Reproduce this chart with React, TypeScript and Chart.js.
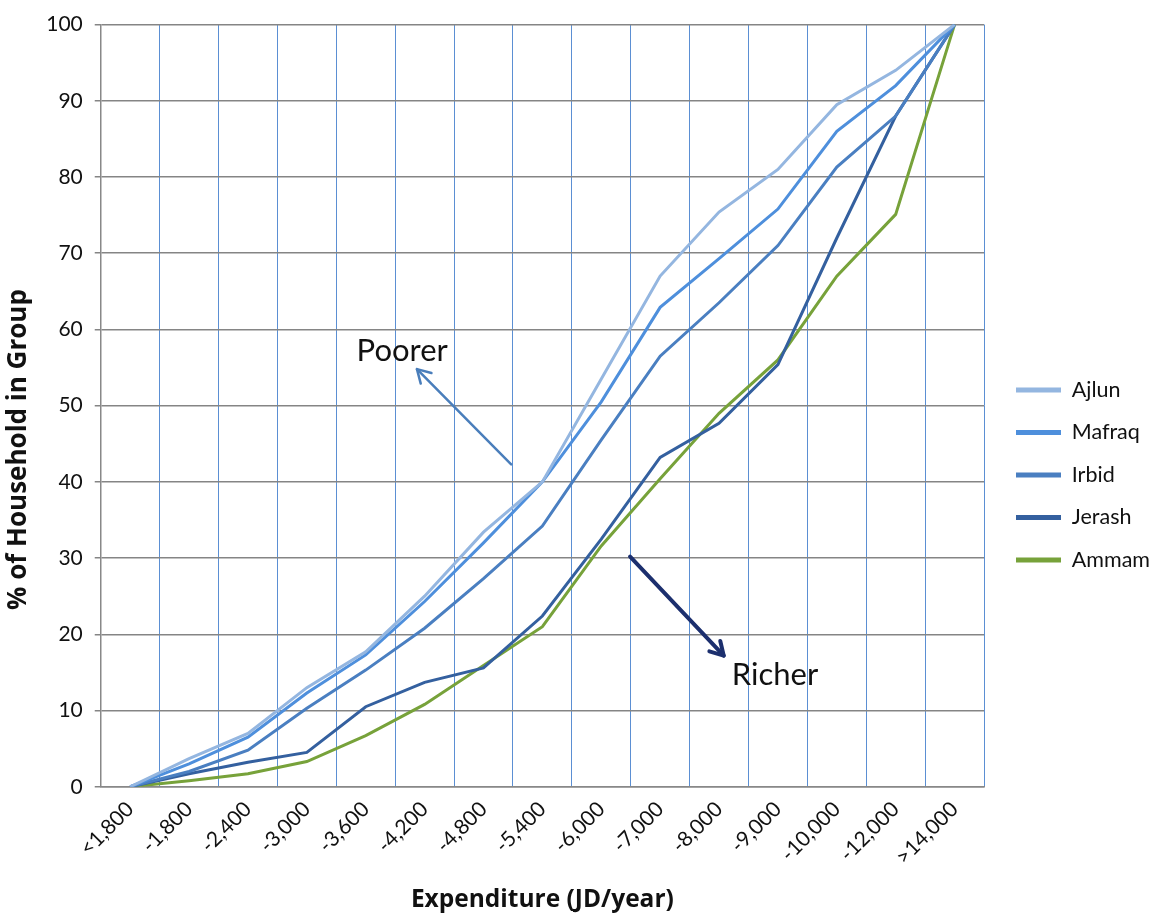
import React, { useEffect, useRef } from 'react';
import { Chart, registerables } from 'chart.js';

Chart.register(...registerables);

const categories = ['<1,800', '-1,800', '-2,400', '-3,000', '-3,600', '-4,200', '-4,800', '-5,400', '-6,000', '-7,000', '-8,000', '-9,000', '-10,000', '-12,000', '>14,000'];

const ajlun = [0, 3.7, 7, 13, 17.7, 25, 33.4, 40, 53.5, 67, 75.4, 81, 89.5, 94, 100];
const mafraq = [0, 3, 6.5, 12.3, 17.3, 24.3, 32, 40, 50.5, 62.9, 69.3, 75.8, 86, 92, 100];
const irbid = [0, 2, 4.8, 10.3, 15.3, 20.8, 27.3, 34.2, 45.5, 56.5, 63.5, 71, 81.3, 88, 100];
const jerash = [0, 1.7, 3.2, 4.5, 10.5, 13.7, 15.6, 22.4, 32.5, 43.2, 47.7, 55.4, 72, 88, 100];
const ammam = [0, 0.8, 1.7, 3.3, 6.7, 10.8, 15.9, 21, 31.6, 40.4, 49, 56, 67, 75.1, 100];

const seriesNames = ['Ajlun', 'Mafraq', 'Irbid', 'Jerash', 'Ammam'];
const seriesValues = [ajlun, mafraq, irbid, jerash, ammam];
const seriesColors = ['#94b6e0', '#4e8fdc', '#4a7fc1', '#34609f', '#77a23a'];

const xTitle = 'Expenditure (JD/year)';
// trailing spaces push the rotated title down along the axis, as in the original
const yTitle = '% of Household in Group             ';

// annotations in data coordinates (category index, percent)
const noteLabels = [
  { text: 'Poorer', x: 4.62, y: 57.2 },
  { text: 'Richer', x: 10.95, y: 14.6 },
];
const noteArrows = [
  { x0: 6.47, y0: 42.3, x1: 4.87, y1: 54.8, color: '#4a7ebb', width: 2.5 },
  { x0: 8.49, y0: 30.2, x1: 10.08, y1: 17.2, color: '#1c2f6e', width: 4 },
];

const FONT = 'Lato, "Open Sans", sans-serif';
const TITLE_FONT = '"Open Sans", Lato, sans-serif';

const annotationPlugin = {
  id: 'notes',
  afterDatasetsDraw(chart: any) {
    const { ctx, scales } = chart;
    const xs = scales.x;
    const ys = scales.y;
    ctx.save();
    noteArrows.forEach((a) => {
      const px0 = xs.getPixelForValue(a.x0);
      const py0 = ys.getPixelForValue(a.y0);
      const px1 = xs.getPixelForValue(a.x1);
      const py1 = ys.getPixelForValue(a.y1);
      ctx.strokeStyle = a.color;
      ctx.lineWidth = a.width;
      ctx.lineCap = 'round';
      ctx.lineJoin = 'round';
      ctx.beginPath();
      ctx.moveTo(px0, py0);
      ctx.lineTo(px1, py1);
      ctx.stroke();
      const ang = Math.atan2(py1 - py0, px1 - px0);
      const len = 15;
      const spread = Math.PI / 6;
      ctx.beginPath();
      ctx.moveTo(px1 - len * Math.cos(ang - spread), py1 - len * Math.sin(ang - spread));
      ctx.lineTo(px1, py1);
      ctx.lineTo(px1 - len * Math.cos(ang + spread), py1 - len * Math.sin(ang + spread));
      ctx.stroke();
    });
    ctx.fillStyle = '#111';
    ctx.font = `31px ${FONT}`;
    ctx.textAlign = 'center';
    ctx.textBaseline = 'middle';
    noteLabels.forEach((n) => {
      ctx.fillText(n.text, xs.getPixelForValue(n.x), ys.getPixelForValue(n.y));
    });
    ctx.restore();
  },
};

export default function App() {
  const ref = useRef<HTMLCanvasElement>(null);
  useEffect(() => {
    const chart = new Chart(ref.current as HTMLCanvasElement, {
      type: 'line',
      data: {
        labels: categories,
        datasets: seriesNames.map((name, i) => ({
          label: name,
          data: seriesValues[i],
          borderColor: seriesColors[i],
          backgroundColor: seriesColors[i],
          borderWidth: 3,
          pointRadius: 0,
          tension: 0,
          yAxisID: 'y',
        })),
      },
      options: {
        animation: false,
        responsive: true,
        maintainAspectRatio: false,
        layout: { padding: { top: 21, right: -7, left: 3, bottom: 0 } },
        scales: {
          x: {
            offset: true,
            grid: { offset: true, color: '#5b8fd3', lineWidth: 1, drawTicks: false },
            border: { color: '#888', width: 1.5 },
            ticks: {
              maxRotation: 45,
              minRotation: 45,
              autoSkip: false,
              padding: 10,
              color: '#111',
              font: { family: FONT, size: 21 },
            },
            title: {
              display: true,
              text: xTitle,
              color: '#111',
              font: { family: TITLE_FONT, size: 24.5, weight: 'bold' },
              padding: { top: 6, bottom: 0 },
            },
          },
          y: {
            min: 0,
            max: 100,
            position: 'left',
            ticks: { stepSize: 10, padding: 12, color: '#111', font: { family: FONT, size: 21 } },
            grid: { color: '#858585', lineWidth: 1.5, tickLength: 6 },
            border: { color: '#888', width: 1.5 },
            title: {
              display: true,
              text: yTitle,
              color: '#111',
              font: { family: TITLE_FONT, size: 26, weight: 'bold' },
              padding: { top: 0, bottom: 0 },
            },
          },
          yRight: {
            position: 'right',
            display: true,
            grid: { display: false, drawOnChartArea: false },
            ticks: { display: false },
            border: { display: false },
            afterFit: (s: any) => {
              s.width = 11;
            },
          },
        },
        plugins: {
          tooltip: { enabled: false },
          legend: {
            position: 'right',
            align: 'center',
            title: { display: true, text: ' ', font: { size: 10 }, padding: 1 },
            labels: {
              boxWidth: 45,
              boxHeight: 5,
              padding: 21,
              color: '#111',
              font: { family: FONT, size: 21.5 },
              generateLabels: (c: any) =>
                c.data.datasets.map((ds: any, i: number) => ({
                  text: ds.label,
                  fillStyle: ds.borderColor,
                  strokeStyle: ds.borderColor,
                  lineWidth: 0,
                  hidden: false,
                  datasetIndex: i,
                  fontColor: '#111',
                })),
            },
          },
        },
      },
      plugins: [annotationPlugin],
    } as any);
    return () => chart.destroy();
  }, []);
  return (
    <div style={{ position: 'fixed', left: 0, top: 0, width: 1153, height: 915, background: '#fff' }}>
      <canvas ref={ref} />
    </div>
  );
}
